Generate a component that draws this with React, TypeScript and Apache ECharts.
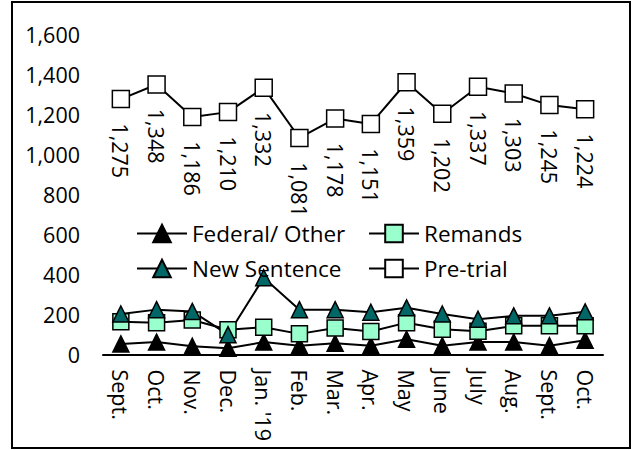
import React, { useEffect, useRef } from "react";
import * as echarts from "echarts";

const categories = ["Sept.", "Oct.", "Nov.", "Dec.", "Jan. '19", "Feb.", "Mar.", "Apr.", "May", "June", "July", "Aug.", "Sept.", "Oct."];
const federalOther = [53, 62, 41, 31, 62, 44, 56, 44, 76, 44, 62, 62, 44, 71];
const remands = [163, 159, 172, 124, 136, 103, 132, 115, 159, 126, 116, 143, 143, 143];
const newSentence = [202, 224, 215, 99, 383, 224, 224, 211, 233, 202, 176, 193, 193, 213];
const preTrial = [1275, 1348, 1186, 1210, 1332, 1081, 1178, 1151, 1359, 1202, 1337, 1303, 1245, 1224];

const FONT = "'Open Sans', sans-serif";

export default function App() {
  const ref = useRef<HTMLDivElement>(null);
  useEffect(() => {
    if (!ref.current) return;
    const chart = echarts.init(ref.current, null, { renderer: "svg" });
    const lineStyle = { color: "#000", width: 2 };
    const fmt = (v: number) => v.toLocaleString("en-US");
    const legendCommon = {
      orient: "vertical",
      top: 222,
      padding: 0,
      itemWidth: 50,
      itemHeight: 22,
      itemGap: 12,
      textStyle: { fontSize: 22.5, color: "#000", fontFamily: FONT },
    };
    chart.setOption({
      animation: false,
      backgroundColor: "#fff",
      textStyle: { fontFamily: FONT },
      grid: { left: 103, right: 33, top: 34, bottom: 95.5, containLabel: false },
      xAxis: {
        type: "category",
        data: categories,
        boundaryGap: true,
        axisLine: { show: true, lineStyle: { color: "#000", width: 2 } },
        axisTick: { show: false },
        axisLabel: { rotate: -90, margin: 15, fontSize: 21.5, color: "#000", fontFamily: FONT, interval: 0 },
      },
      yAxis: {
        type: "value",
        min: 0,
        max: 1600,
        interval: 200,
        axisLine: { show: false },
        axisTick: { show: false },
        splitLine: { show: false },
        axisLabel: { margin: 23, fontSize: 21.5, color: "#000", fontFamily: FONT, formatter: fmt },
      },
      legend: [
        { ...legendCommon, data: ["Federal/ Other", "New Sentence"], left: 136 },
        { ...legendCommon, data: ["Remands", "Pre-trial"], left: 368 },
      ],
      series: [
        {
          name: "Federal/ Other",
          type: "line",
          data: federalOther,
          symbol: "triangle",
          symbolSize: 16,
          lineStyle,
          itemStyle: { color: "#000", borderColor: "#000", borderWidth: 1.5 },
        },
        {
          name: "Remands",
          type: "line",
          data: remands,
          symbol: "rect",
          symbolSize: 16,
          lineStyle,
          itemStyle: { color: "#99ffcc", borderColor: "#000", borderWidth: 1.5 },
        },
        {
          name: "New Sentence",
          type: "line",
          data: newSentence,
          symbol: "triangle",
          symbolSize: 16,
          lineStyle,
          itemStyle: { color: "#006666", borderColor: "#000", borderWidth: 1.5 },
        },
        {
          name: "Pre-trial",
          type: "line",
          data: preTrial,
          symbol: "rect",
          symbolSize: 17,
          lineStyle,
          itemStyle: { color: "#fff", borderColor: "#000", borderWidth: 1.5 },
          label: {
            show: true,
            position: "bottom",
            distance: 15,
            rotate: -90,
            align: "left",
            verticalAlign: "middle",
            fontSize: 21.5,
            color: "#000",
            fontFamily: FONT,
            formatter: (p: any) => fmt(p.value),
          },
        },
      ],
      graphic: [
        {
          type: "rect",
          shape: { x: 12, y: 2, width: 618, height: 446 },
          style: { fill: "none", stroke: "#000", lineWidth: 2 },
          silent: true,
          z: 100,
        },
      ],
    });
    return () => chart.dispose();
  }, []);
  return <div ref={ref} style={{ position: "fixed", left: 0, top: 0, width: 636, height: 450 }} />;
}
